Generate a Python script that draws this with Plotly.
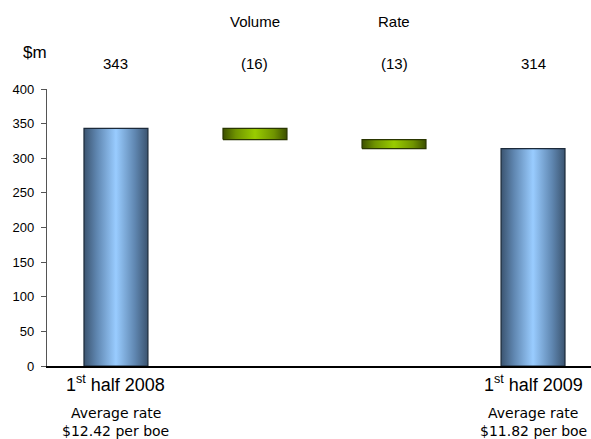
import plotly.graph_objects as go

categories = ["1<sup>st</sup> half 2008", "Volume", "Rate", "1<sup>st</sup> half 2009"]
values = [343, -16, -13, 314]
value_labels = ["343", "(16)", "(13)", "314"]
top_labels = ["", "Volume", "Rate", ""]
sub_line1 = ["Average rate", "", "", "Average rate"]
sub_line2 = ["$12.42 per boe", "", "", "$11.82 per boe"]
kinds = ["total", "delta", "delta", "total"]

BAR_W = 0.46
blue_scale = [[0, "#3b5470"], [0.2, "#5f86b0"], [0.5, "#99ccff"], [0.8, "#5f86b0"], [1, "#3b5470"]]
green_scale = [[0, "#3c4f00"], [0.2, "#6f9300"], [0.5, "#99cc00"], [0.8, "#6f9300"], [1, "#3c4f00"]]

fig = go.Figure()
running = 0
for i, (v, k) in enumerate(zip(values, kinds)):
    if k == "total":
        base, top = 0, v
        running = v
        scale, edge = blue_scale, "#1c2a3a"
    else:
        base, top = running + v, running
        running = running + v
        scale, edge = green_scale, "#2a3600"
    x0, x1 = i - BAR_W / 2, i + BAR_W / 2
    fig.add_trace(go.Scatter(
        x=[x0, x1, x1, x0, x0], y=[base, base, top, top, base],
        mode="lines", fill="toself",
        fillgradient=dict(type="horizontal", colorscale=scale, start=x0, stop=x1),
        line=dict(color=edge, width=1.2), hoverinfo="skip", showlegend=False,
    ))

SANS = "Liberation Sans, Arial"
ann = []
for i in range(len(categories)):
    ann.append(dict(x=i, y=1.092, xref="x", yref="paper", text=value_labels[i], showarrow=False,
                    font=dict(family=SANS, size=15, color="#000"), yanchor="middle"))
    if top_labels[i]:
        ann.append(dict(x=i, y=1.242, xref="x", yref="paper", text=top_labels[i], showarrow=False,
                        font=dict(family=SANS, size=15, color="#000"), yanchor="middle"))
    if sub_line1[i]:
        ann.append(dict(x=i, y=-0.062, xref="x", yref="paper", text=categories[i], showarrow=False,
                        font=dict(family=SANS, size=18, color="#000"), yanchor="middle"))
        ann.append(dict(x=i, y=-0.169, xref="x", yref="paper", text=sub_line1[i], showarrow=False,
                        font=dict(family="DejaVu Sans", size=14, color="#000"), yanchor="middle"))
        ann.append(dict(x=i, y=-0.235, xref="x", yref="paper", text=sub_line2[i], showarrow=False,
                        font=dict(family="DejaVu Sans", size=14, color="#000"), yanchor="middle"))
ann.append(dict(x=-0.022, y=1.13, xref="paper", yref="paper", text="$m", showarrow=False,
                font=dict(family=SANS, size=17, color="#000"), yanchor="middle", xanchor="center"))

fig.update_layout(
    width=591, height=439,
    margin=dict(l=47, r=0, t=89, b=73),
    plot_bgcolor="white", paper_bgcolor="white",
    annotations=ann,
    xaxis=dict(range=[-0.496, 3.417], showticklabels=False,
               showgrid=False, zeroline=False, showline=True, linecolor="#000", linewidth=1.5,
               ticks=""),
    yaxis=dict(range=[0, 400], tickvals=list(range(0, 401, 50)), showgrid=False, zeroline=False,
               showline=True, linecolor="#555", linewidth=1.2, ticks="outside", ticklen=5,
               tickcolor="#555", ticklabelstandoff=4,
               tickfont=dict(family=SANS, size=13, color="#000")),
)

fig.write_html("out.html")
